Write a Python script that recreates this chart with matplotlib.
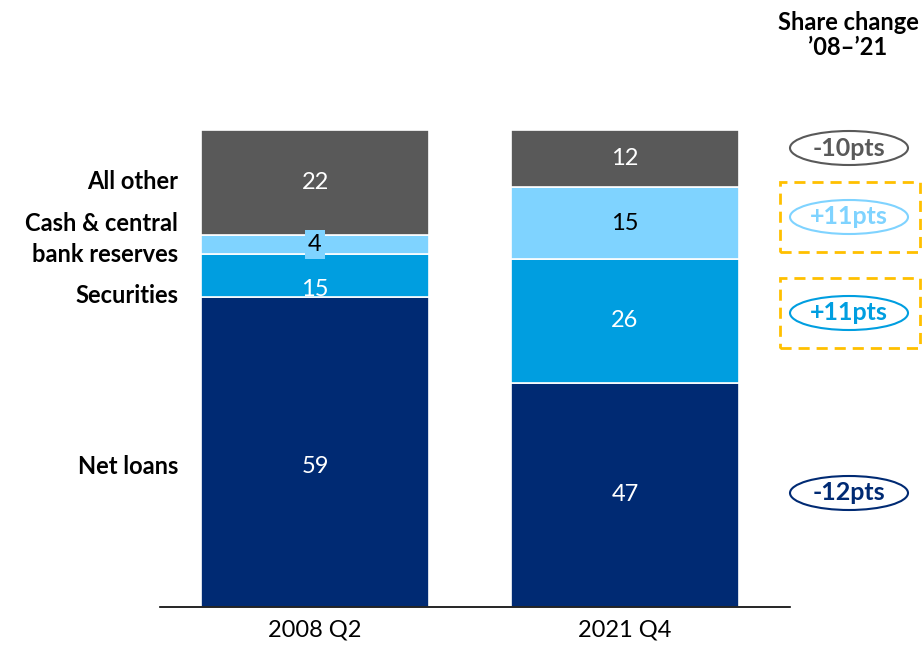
import numpy as np
import matplotlib
matplotlib.use("Agg")
import matplotlib.pyplot as plt
from matplotlib.patches import Ellipse, Rectangle
import matplotlib.transforms as mtransforms

plt.rcParams['font.family'] = ['Lato', 'DejaVu Sans']

# data (bottom to top)
periods = ["2008 Q2", "2021 Q4"]
segments = ["Net loans", "Securities", "Cash & central\nbank reserves", "All other"]
# segment heights as drawn in the picture (share of assets, %)
heights_2008 = [65, 9, 4, 22]
heights_2021 = [47, 26, 15, 12]
# printed labels (labels sit at the middle of these values)
values_2008 = [59, 15, 4, 22]
values_2021 = [47, 26, 15, 12]
share_change = ["-12pts", "+11pts", "+11pts", "-10pts"]

colors = ["#002A73", "#009EE0", "#7FD3FF", "#595959"]
text_colors = ["white", "white", "black", "white"]

fig = plt.figure(figsize=(9.24, 6.48), dpi=100)
ax = fig.add_axes([160/924, 41/648, 630/924, 477/648])

x = np.arange(len(periods))
width = 0.735
for heights, values, xi in [(heights_2008, values_2008, x[0]), (heights_2021, values_2021, x[1])]:
    ax.bar(xi, heights, width, bottom=np.cumsum([0] + heights[:-1]), color=colors,
           edgecolor="white", linewidth=1.2)
    mids = np.cumsum(values) - np.array(values) / 2
    for i, (v, m) in enumerate(zip(values, mids)):
        if v < 6:
            ax.text(xi, m, str(v), ha="center", va="center", fontsize=17, color=text_colors[i],
                    bbox=dict(boxstyle="square,pad=0.15", fc=colors[i], ec="none"))
        else:
            ax.text(xi, m, str(v), ha="center", va="center", fontsize=17, color=text_colors[i])

ax.set_xlim(-0.5, 1.532)
ax.set_ylim(0, 100)
ax.set_xticks(x)
ax.set_xticklabels(periods, fontsize=17)
ax.tick_params(axis="x", length=0, pad=9)
ax.set_yticks([])
for s in ["top", "right", "left"]:
    ax.spines[s].set_visible(False)
ax.spines["bottom"].set_linewidth(1.2)

# segment names on the left
label_y = [29.4, 65.2, 77.2, 89.3]
trans = mtransforms.blended_transform_factory(fig.transFigure, ax.transData)
for name, yy in zip(segments, label_y):
    ax.text(178/924, yy, name, transform=trans, ha="right", va="center",
            fontsize=17, fontweight="bold", linespacing=1.4)

# share change column
fig.text(848/924, 1 - 35/648, "Share change\n\u201908\u2013\u201921", ha="center", va="center",
         fontsize=17, fontweight="bold", linespacing=1.1)

ell_y = [493, 313, 217, 148]
for txt, c, yy in zip(share_change, colors, ell_y):
    e = Ellipse((849/924, 1 - yy/648), 118/924, 34/648, transform=fig.transFigure,
                fc="white", ec=c, lw=1.5)
    fig.add_artist(e)
    fig.text(849/924, 1 - yy/648, txt, ha="center", va="center", fontsize=18,
             fontweight="bold", color=c)

for top in [182, 278]:
    r = Rectangle((780/924, 1 - (top + 70)/648), 140/924, 70/648, transform=fig.transFigure,
                  fill=False, ec="#FFC000", lw=2, ls=(0, (4, 2.5)))
    fig.add_artist(r)

fig.savefig("out.png", dpi=100)
